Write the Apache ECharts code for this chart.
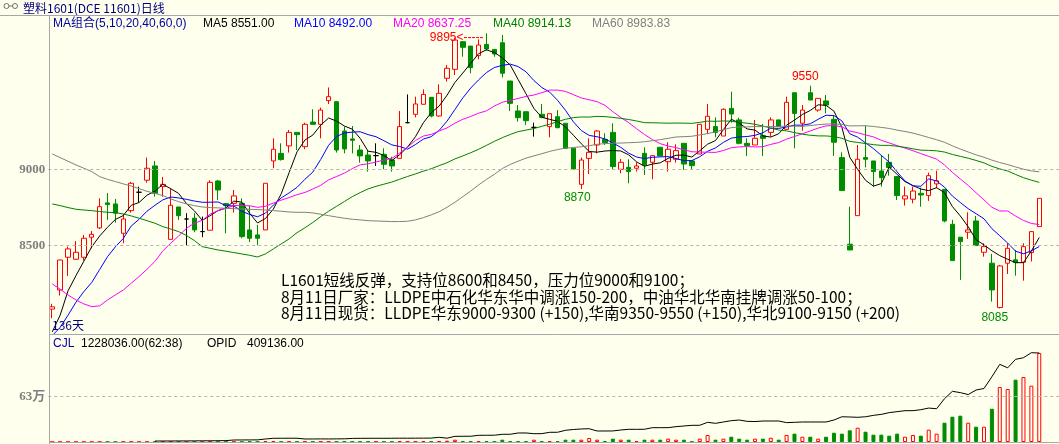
<!DOCTYPE html>
<html>
<head>
<meta charset="utf-8">
<title>塑料1601 日线</title>
<script src="https://cdn.jsdelivr.net/npm/echarts@6.0.0/dist/echarts.min.js"></script>
<style>
html, body { margin:0; padding:0; background:#FFFFEE; overflow:hidden; }
#chart { width:1059px; height:444px; }
</style>
</head>
<body>
<div id="chart"></div>
<script>
// ---------------- data ----------------
const opens = [
8080, 8206, 8421, 8408, 8421, 8553, 8614, 8779, 8772, 8579,
8728, 8849, 8928, 9022, 8886, 8539, 8752, 8673, 8678, 8590,
8599, 8923, 8774, 8776, 8776, 8601, 8568, 8601, 9055, 9105,
9154, 9243, 9149, 9311, 9296, 9452, 9445, 9252, 9200, 9127,
9094, 9090, 9099, 9061, 9072, 9307, 9362, 9428, 9474, 9351,
9599, 9658, 9840, 9811, 9748, 9822, 9789, 9833, 9581, 9384,
9379, 9276, 9362, 9281, 9346, 9303, 9138, 8901, 9072, 9160,
9197, 9243, 9000, 9013, 9007, 9105, 9046, 9145, 9050, 9066,
9171, 9055, 9101, 9263, 9281, 9219, 9401, 9325, 9171, 9160,
9221, 9243, 9325, 9263, 9504, 9303, 9504, 9390, 9450, 9329,
9077, 8507, 8695, 9077, 9055, 8989, 9046, 8952, 8805, 8803,
8842, 8827, 8904, 8868, 8638, 8553, 8586, 8660, 8454, 8382,
8090, 8382, 8404, 8388, 8452, 8623
];
const closes = [
8095, 8403, 8476, 8454, 8546, 8572, 8754, 8768, 8711, 8673,
8908, 8849, 9007, 8842, 8901, 8763, 8695, 8673, 8601, 8590,
8914, 8864, 8761, 8825, 8557, 8546, 8546, 8908, 9132, 9064,
9243, 9228, 9296, 9296, 9390, 9478, 9127, 9134, 9191, 9088,
9055, 9090, 9033, 9022, 9281, 9307, 9430, 9493, 9351, 9500,
9665, 9851, 9803, 9669, 9818, 9792, 9759, 9632, 9434, 9340,
9320, 9276, 9342, 9366, 9274, 9138, 9002, 9061, 9112, 9252,
9175, 9018, 9046, 8985, 9022, 9029, 9090, 9088, 9132, 9123,
9035, 9024, 9296, 9349, 9243, 9395, 9364, 9171, 9156, 9204,
9204, 9325, 9281, 9441, 9368, 9390, 9456, 9467, 9423, 9178,
8860, 8469, 9066, 9066, 8985, 8945, 9011, 8827, 8825, 8857,
8831, 8958, 8925, 8660, 8399, 8524, 8601, 8498, 8491, 8206,
8364, 8480, 8386, 8491, 8590, 8809
];
const highs = [
8115, 8405, 8491, 8528, 8568, 8594, 8809, 8844, 8805, 8706,
8917, 8886, 9077, 9055, 8950, 8875, 8752, 8711, 8711, 8689,
8928, 8930, 8774, 8864, 8809, 8761, 8634, 8908, 9204, 9171,
9259, 9243, 9307, 9395, 9406, 9539, 9450, 9281, 9285, 9160,
9123, 9171, 9138, 9083, 9384, 9493, 9478, 9526, 9474, 9559,
9686, 9866, 9844, 9811, 9855, 9895, 9789, 9884, 9581, 9423,
9379, 9307, 9430, 9366, 9390, 9303, 9138, 9077, 9204, 9259,
9237, 9303, 9068, 9066, 9046, 9145, 9090, 9145, 9178, 9164,
9171, 9055, 9296, 9430, 9342, 9401, 9511, 9340, 9204, 9325,
9298, 9342, 9325, 9478, 9504, 9423, 9550, 9467, 9489, 9357,
9112, 8754, 9160, 9287, 9055, 9094, 9101, 8952, 8886, 8886,
8879, 8978, 8991, 8868, 8667, 8553, 8717, 8693, 8513, 8443,
8371, 8513, 8469, 8513, 8590, 8809
];
const lows = [
8020, 8169, 8298, 8404, 8399, 8480, 8607, 8667, 8649, 8513,
8715, 8783, 8912, 8820, 8820, 8539, 8667, 8500, 8586, 8553,
8599, 8798, 8579, 8715, 8546, 8522, 8500, 8601, 9007, 9057,
9110, 9127, 9132, 9296, 9204, 9430, 9110, 9105, 9105, 9044,
8985, 9022, 9000, 8985, 9072, 9303, 9342, 9428, 9342, 9346,
9577, 9621, 9741, 9632, 9724, 9781, 9741, 9605, 9384, 9314,
9292, 9215, 9336, 9211, 9270, 9138, 9002, 8870, 8969, 9105,
9160, 9000, 8974, 8908, 8985, 8963, 8934, 9088, 8985, 9044,
8996, 8996, 9101, 9232, 9211, 9219, 9307, 9164, 9088, 9160,
9088, 9215, 9281, 9263, 9138, 9254, 9456, 9379, 9368, 9088,
8860, 8469, 8695, 9013, 8886, 8886, 8958, 8798, 8761, 8776,
8754, 8792, 8875, 8651, 8399, 8272, 8542, 8498, 8425, 8129,
8085, 8311, 8300, 8267, 8393, 8623
];
const volumes = [
1200, 1500, 2100, 1800, 2500, 1600, 3000, 2200, 1900, 2400,
3100, 2000, 2600, 2800, 2300, 3300, 2700, 2500, 3000, 2100,
3400, 2600, 2900, 3500, 3800, 12000, 5000, 13000, 14000, 5000,
4500, 6000, 5500, 4800, 6200, 6500, 5800, 6800, 6000, 6500,
14000, 6000, 5000, 6000, 14000, 6000, 7000, 14000, 7000, 14000,
18000, 32000, 14000, 14000, 14000, 14000, 7000, 32000, 14000, 14000,
14000, 32000, 14000, 14000, 14000, 32000, 32000, 32000, 55000, 32000,
14000, 46000, 32000, 32000, 14000, 32000, 32000, 32000, 46000, 32000,
32000, 14000, 46000, 97000, 32000, 46000, 73000, 46000, 32000, 46000,
46000, 59000, 32000, 97000, 115000, 73000, 73000, 46000, 73000, 128000,
115000, 161000, 197000, 142000, 101000, 101000, 87000, 115000, 73000, 97000,
87000, 170000, 115000, 266000, 349000, 363000, 266000, 211000, 211000, 459000,
759000, 731000, 860000, 897000, 777000, 1228036
];
// open interest; the first days are not drawn in the picture
const openInterest = [
null, null, null, null, null, null, null, null, null, null,
null, null, null, 4400, 4600, 4700, 4900, 5000, 5200, 5400,
5600, 5900, 6300, 9200, 9400, 9600, 9800, 13800, 17000, 17200,
17400, 17300, 13800, 13900, 14200, 14000, 14300, 14600, 16500, 17000,
17000, 17200, 17000, 17300, 17500, 17400, 17600, 17800, 18000, 21600,
17500, 26000, 26300, 26500, 30800, 31000, 31200, 35400, 35600, 41400,
41500, 38200, 38400, 44600, 44800, 53800, 57500, 59800, 61000, 50600,
50600, 50800, 55200, 58300, 58300, 58500, 65800, 65800, 66000, 70500,
73600, 76600, 76800, 90500, 85800, 92000, 98000, 101000, 95000, 94000,
96500, 96500, 96500, 89000, 90500, 92000, 92000, 92000, 92000, 101000,
116000, 115000, 113500, 116000, 122500, 127000, 135000, 139500, 144000, 144000,
148500, 156000, 153000, 199000, 233000, 227000, 218000, 239000, 246000, 300000,
357000, 341000, 380000, 387500, 410500, 409136
];
// moving-average values visible at the left edge (their history lies before the window)
const ma5Head  = [7930, 8040, 8200, 8300];
const ma10Head = [7905, 7960, 8040, 8125, 8195, 8255, 8340, 8425, 8490];
const ma20Head = [8246, 8211, 8173, 8140, 8114, 8096, 8101, 8140, 8173, 8206,
                  8250, 8294, 8342, 8393, 8463, 8513, 8561, 8612, 8645];
const ma40Head = [8772, 8761, 8748, 8737, 8732, 8728, 8722, 8717, 8715, 8706,
                  8693, 8678, 8662, 8645, 8623, 8607, 8590, 8564, 8531, 8491,
                  8480, 8469, 8461, 8452, 8443, 8434, 8423, 8443, 8476, 8509,
                  8542, 8583, 8615, 8650, 8689, 8724, 8756, 8788, 8820];
const ma60Head = [9101, 9077, 9053, 9029, 9007, 8985, 8952, 8934, 8919, 8904,
                  8890, 8873, 8855, 8842, 8827, 8805, 8787, 8772, 8761, 8752,
                  8748, 8746, 8743, 8741, 8739, 8737, 8735, 8732, 8728, 8724,
                  8719, 8717, 8717, 8713, 8704, 8695, 8686, 8678, 8671, 8667,
                  8662, 8660, 8658, 8656, 8656, 8658, 8667, 8682, 8700, 8721,
                  8750, 8783, 8820, 8857, 8897, 8934, 8967, 9005, 9032];
const priceGridValues = [9000, 8500];
const volumeGridValues = [630000];
const volumeGridLabels = ['63万'];
const extremeMarks = [
  {index: 55, kind: 'high', suffix: '<-----'},
  {index: 96, kind: 'high', suffix: ''},
  {index: 67, kind: 'low', suffix: ''},
  {index: 120, kind: 'low', suffix: ''}
];
const titleText = '塑料1601(DCE 11601)日线';
const maLegend = [
  {text: 'MA组合(5,10,20,40,60,0)', color: '#0000A0', x: 53},
  {text: 'MA5 8551.00', color: '#000000', x: 203},
  {text: 'MA10 8492.00', color: '#0000FF', x: 294},
  {text: 'MA20 8637.25', color: '#FF00FF', x: 393},
  {text: 'MA40 8914.13', color: '#008000', x: 493},
  {text: 'MA60 8983.83', color: '#808080', x: 592}
];
const volLegend = [
  {text: 'CJL', color: '#0000A0', x: 53},
  {text: '1228036.00(62:38)', color: '#000000', x: 81},
  {text: 'OPID', color: '#000000', x: 207},
  {text: '409136.00', color: '#000000', x: 247}
];
const noteLines = [
  'L1601短线反弹，支持位8600和8450，压力位9000和9100；',
  '8月11日厂家：LLDPE中石化华东华中调涨150-200，中油华北华南挂牌调涨50-100；',
  '8月11日现货：LLDPE华东9000-9300 (+150),华南9350-9550 (+150),华北9100-9150 (+200)'
];

// ---------------- styling ----------------
const BG = '#FFFFEE', RED = '#FF0000', GREEN = '#008C00', FRAME = '#A8A8A8';
const SANS = "'Liberation Sans', 'Noto Sans CJK SC', sans-serif";
const CJK = "'Noto Sans CJK SC', sans-serif";
const SLOT_COUNT = closes.length + 2;
const days = [];
for (let i = 0; i < SLOT_COUNT; i++) days.push('D' + (i + 1));

function movingAverage(period, head) {
  return closes.map((_, i) => {
    if (i < period - 1) return head[i];
    let s = 0;
    for (let k = i - period + 1; k <= i; k++) s += closes[k];
    return +(s / period).toFixed(2);
  });
}
const ma5 = movingAverage(5, ma5Head);
const ma10 = movingAverage(10, ma10Head);
const ma20 = movingAverage(20, ma20Head);
const ma40 = movingAverage(40, ma40Head);
const ma60 = movingAverage(60, ma60Head);

const candleData = closes.map((c, i) => [opens[i], c, lows[i], highs[i]]);
const volData = volumes.map((v, i) => {
  const up = closes[i] >= opens[i];
  return {value: v, itemStyle: {color: up ? BG : GREEN, borderColor: up ? RED : GREEN, borderWidth: 1}};
});
const oiData = openInterest.map(v => (v === null ? '-' : v));

const markOffsets = {55: [-3, 4], 96: [-5, -9], 67: [-4, 9], 120: [-5, 9.5]};
const markPointData = extremeMarks.map(m => {
  const val = m.kind === 'high' ? highs[m.index] : lows[m.index];
  return {
    coord: [days[m.index], val],
    label: {
      show: true, position: 'inside',
      formatter: String(val) + m.suffix,
      color: m.kind === 'high' ? RED : GREEN,
      align: m.suffix ? 'right' : 'center',
      offset: markOffsets[m.index],
      fontFamily: SANS, fontSize: 12
    }
  };
});

function lineSeries(name, data, color) {
  return {
    name, type: 'line', data, xAxisIndex: 0, yAxisIndex: 0,
    symbol: 'none', showSymbol: false, smooth: false, clip: true,
    lineStyle: {color, width: 1}, silent: true
  };
}

const graphic = [];
// frame
graphic.push({type: 'line', z: 100, shape: {x1: 0, y1: 15.5, x2: 1059, y2: 15.5}, style: {stroke: FRAME, lineWidth: 1}});
graphic.push({type: 'line', z: 100, shape: {x1: 49.5, y1: 16, x2: 49.5, y2: 444}, style: {stroke: FRAME, lineWidth: 1}});
graphic.push({type: 'line', z: 100, shape: {x1: 49.5, y1: 334.5, x2: 1059, y2: 334.5}, style: {stroke: FRAME, lineWidth: 1}});
graphic.push({type: 'line', z: 100, shape: {x1: 49.5, y1: 442.5, x2: 1059, y2: 442.5}, style: {stroke: FRAME, lineWidth: 1}});
// title icon
graphic.push({type: 'circle', z: 100, shape: {cx: 6.5, cy: 6, r: 2.5}, style: {fill: 'none', stroke: '#707070', lineWidth: 1}});
graphic.push({type: 'circle', z: 100, shape: {cx: 15, cy: 6, r: 2.5}, style: {fill: 'none', stroke: '#707070', lineWidth: 1}});
graphic.push({type: 'line', z: 100, shape: {x1: 9, y1: 6, x2: 12.5, y2: 6}, style: {stroke: '#707070', lineWidth: 1}});
function txt(x, y, text, color, font) {
  return {type: 'text', z: 101, x, y, style: {text, fill: color, font,
    textAlign: 'left', textVerticalAlign: 'middle', align: 'left', verticalAlign: 'middle'}};
}
graphic.push(txt(23, 8, titleText, '#000080', "12px " + CJK));
maLegend.forEach(l => graphic.push(txt(l.x, 24, l.text, l.color, "12px " + SANS)));
volLegend.forEach(l => graphic.push(txt(l.x, 344, l.text, l.color, "12px " + SANS)));
noteLines.forEach((t, k) => graphic.push(txt(281, 280.5 + k * 16.3, t, '#000000', "15.5px " + CJK)));
graphic.push(txt(52, 325, '136天', '#000080', "12px " + CJK));

const option = {
  backgroundColor: BG,
  animation: false,
  grid: [
    {left: 48.3, top: 16, width: 1015, height: 318},
    {left: 48.3, top: 335, width: 1015, height: 107}
  ],
  xAxis: [
    {type: 'category', gridIndex: 0, data: days, show: false, boundaryGap: true},
    {type: 'category', gridIndex: 1, data: days, show: false, boundaryGap: true}
  ],
  yAxis: [
    {type: 'value', gridIndex: 0, min: 7916, max: 10009, show: false, splitLine: {show: false}},
    {type: 'value', gridIndex: 1, min: 0, max: 1476400, show: false, splitLine: {show: false}},
    {type: 'value', gridIndex: 1, min: 0, max: 491900, show: false, splitLine: {show: false}}
  ],
  series: [
    {
      name: 'K', type: 'candlestick', xAxisIndex: 0, yAxisIndex: 0,
      data: candleData, barWidth: 5, silent: true,
      itemStyle: {
        color: BG, color0: GREEN,
        borderColor: RED, borderColor0: GREEN, borderColorDoji: '#000000',
        borderWidth: 1
      },
      markLine: {
        silent: true, symbol: ['none', 'none'], animation: false,
        lineStyle: {color: '#B4B4B4', type: [3, 3], width: 1},
        label: {show: true, position: 'start', distance: 3, color: '#808080',
          fontFamily: "'Liberation Serif', serif", fontWeight: 'bold', fontSize: 13,
          formatter: p => String(p.value)},
        data: priceGridValues.map(v => ({yAxis: v}))
      },
      markPoint: {
        symbol: 'circle', symbolSize: 0, silent: true, animation: false,
        data: markPointData
      }
    },
    lineSeries('MA5', ma5, '#000000'),
    lineSeries('MA10', ma10, '#0000FF'),
    lineSeries('MA20', ma20, '#FF00FF'),
    lineSeries('MA40', ma40, '#008000'),
    lineSeries('MA60', ma60, '#808080'),
    {
      name: 'CJL', type: 'bar', xAxisIndex: 1, yAxisIndex: 1,
      data: volData, barWidth: 4, silent: true,
      markLine: {
        silent: true, symbol: ['none', 'none'], animation: false,
        lineStyle: {color: '#B4B4B4', type: [3, 3], width: 1},
        label: {show: true, position: 'start', distance: 3, color: '#808080',
          fontFamily: "'Liberation Serif', 'Noto Sans CJK SC', serif", fontWeight: 'bold', fontSize: 13,
          formatter: p => volumeGridLabels[volumeGridValues.indexOf(p.value)]},
        data: volumeGridValues.map(v => ({yAxis: v}))
      }
    },
    {
      name: 'OPID', type: 'line', xAxisIndex: 1, yAxisIndex: 2,
      data: oiData, symbol: 'none', showSymbol: false, silent: true,
      lineStyle: {color: '#000000', width: 1}
    }
  ],
  graphic
};

const chart = echarts.init(document.getElementById('chart'), null, {renderer: 'canvas'});
chart.setOption(option);
</script>
</body>
</html>
